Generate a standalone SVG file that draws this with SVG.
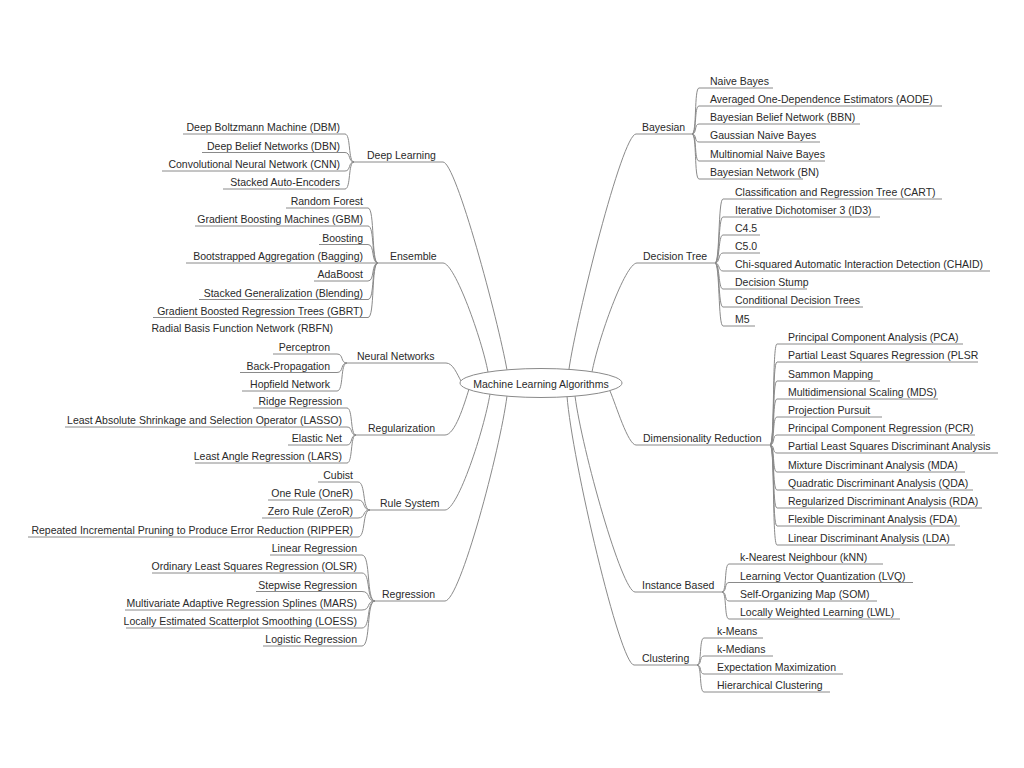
<svg xmlns="http://www.w3.org/2000/svg" width="1024" height="768" viewBox="0 0 1024 768">
<style>
text{font-family:"Liberation Sans",Arial,sans-serif;font-size:10.5px;fill:#2a2a2a}
.l{text-anchor:end}
.c{fill:none;stroke:#8a8a8a;stroke-width:1}
line{stroke:#8a8a8a;stroke-width:1}
</style>
<rect width="1024" height="768" fill="#fff"/>
<g id="connectors" class="c">
<path d="M443 162 C456 162 498 320 507 370"/>
<path d="M443 263 C455 263 482 340 488 372"/>
<path d="M446 363 C453 363 457 374 461 381"/>
<path d="M445 435 C455 435 464 405 469 389"/>
<path d="M445 510 C458 510 484 430 490 394"/>
<path d="M445 601 C460 601 500 450 507 396"/>
<path d="M636 134 C622 134 576 320 569 369"/>
<path d="M637 263 C625 263 598 340 592 372"/>
<path d="M636 445 C628 445 616 405 610 391"/>
<path d="M635 592 C622 592 582 450 575 396"/>
<path d="M634 665 C620 665 572 460 567 396"/>
<path d="M345 134 C351 134 348 162 354 162"/>
<path d="M345 152.5 C351 152.5 348 162 354 162"/>
<path d="M345 171 C351 171 348 162 354 162"/>
<path d="M345 189 C351 189 348 162 354 162"/>
<path d="M368 208 C375 208 371 263 378 263"/>
<path d="M368 226 C375 226 371 263 378 263"/>
<path d="M368 244.5 C375 244.5 371 263 378 263"/>
<path d="M368 263 L378 263"/>
<path d="M368 281 C375 281 371 263 378 263"/>
<path d="M368 299.5 C375 299.5 371 263 378 263"/>
<path d="M368 317.5 C375 317.5 371 263 378 263"/>
<path d="M337 354 C344 354 340 363 347 363"/>
<path d="M337 372.5 C344 372.5 340 363 347 363"/>
<path d="M337 391 C344 391 340 363 347 363"/>
<path d="M347 408 C353 408 350 435 356 435"/>
<path d="M347 427 C353 427 350 435 356 435"/>
<path d="M347 445 C353 445 350 435 356 435"/>
<path d="M347 463 C353 463 350 435 356 435"/>
<path d="M358 482 C366 482 362 510 370 510"/>
<path d="M358 500 C366 500 362 510 370 510"/>
<path d="M358 518 C366 518 362 510 370 510"/>
<path d="M358 537 C366 537 362 510 370 510"/>
<path d="M362 555 C371 555 366 601 375 601"/>
<path d="M362 573 C371 573 366 601 375 601"/>
<path d="M362 591.5 C371 591.5 366 601 375 601"/>
<path d="M362 610 C371 610 366 601 375 601"/>
<path d="M362 628 C371 628 366 601 375 601"/>
<path d="M362 646 C371 646 366 601 375 601"/>
<path d="M692 134 C697 134 694 88 699 88"/>
<path d="M692 134 C697 134 694 106 699 106"/>
<path d="M692 134 C697 134 694 124 699 124"/>
<path d="M692 134 C697 134 694 142 699 142"/>
<path d="M692 134 C697 134 694 161 699 161"/>
<path d="M692 134 C697 134 694 179 699 179"/>
<path d="M715 263 C720 263 718 199 723 199"/>
<path d="M715 263 C720 263 718 217 723 217"/>
<path d="M715 263 C720 263 718 235 723 235"/>
<path d="M715 263 C720 263 718 253 723 253"/>
<path d="M715 263 C720 263 718 271 723 271"/>
<path d="M715 263 C720 263 718 289 723 289"/>
<path d="M715 263 C720 263 718 307 723 307"/>
<path d="M715 263 C720 263 718 326 723 326"/>
<path d="M770 445 C775 445 772 344 777 344"/>
<path d="M770 445 C775 445 772 362 777 362"/>
<path d="M770 445 C775 445 772 381 777 381"/>
<path d="M770 445 C775 445 772 399 777 399"/>
<path d="M770 445 C775 445 772 417 777 417"/>
<path d="M770 445 C775 445 772 435 777 435"/>
<path d="M770 445 C775 445 772 453 777 453"/>
<path d="M770 445 C775 445 772 472 777 472"/>
<path d="M770 445 C775 445 772 490 777 490"/>
<path d="M770 445 C775 445 772 508 777 508"/>
<path d="M770 445 C775 445 772 526 777 526"/>
<path d="M770 445 C775 445 772 545 777 545"/>
<path d="M722 592 C727 592 724 564 729 564"/>
<path d="M722 592 C727 592 724 582.5 729 582.5"/>
<path d="M722 592 C727 592 724 601 729 601"/>
<path d="M722 592 C727 592 724 619 729 619"/>
<path d="M697 665 C702 665 699 638 704 638"/>
<path d="M697 665 C702 665 699 656 704 656"/>
<path d="M697 665 C702 665 699 674 704 674"/>
<path d="M697 665 C702 665 699 692 704 692"/>
</g>
<g id="root"><ellipse cx="541" cy="383" rx="81" ry="14.5" fill="#fff" stroke="#8a8a8a"/><text x="541" y="387.5" text-anchor="middle">Machine Learning Algorithms</text></g>
<g id="cat-deep-learning"><line x1="354" y1="162" x2="443" y2="162"/><text x="367" y="159">Deep Learning</text></g>
<g id="cat-ensemble"><line x1="378" y1="263" x2="443" y2="263"/><text x="390" y="260">Ensemble</text></g>
<g id="cat-neural-networks"><line x1="347" y1="363" x2="446" y2="363"/><text x="357" y="360">Neural Networks</text></g>
<g id="cat-regularization"><line x1="356" y1="435" x2="445" y2="435"/><text x="368" y="432">Regularization</text></g>
<g id="cat-rule-system"><line x1="370" y1="510" x2="445" y2="510"/><text x="380" y="507">Rule System</text></g>
<g id="cat-regression"><line x1="375" y1="601" x2="445" y2="601"/><text x="382" y="598">Regression</text></g>
<g id="cat-bayesian"><line x1="636" y1="134" x2="692" y2="134"/><text x="642" y="131">Bayesian</text></g>
<g id="cat-decision-tree"><line x1="637" y1="263" x2="715" y2="263"/><text x="643" y="260">Decision Tree</text></g>
<g id="cat-dimensionality-reduction"><line x1="636" y1="445" x2="770" y2="445"/><text x="643" y="442">Dimensionality Reduction</text></g>
<g id="cat-instance-based"><line x1="635" y1="592" x2="722" y2="592"/><text x="642" y="589">Instance Based</text></g>
<g id="cat-clustering"><line x1="634" y1="665" x2="697" y2="665"/><text x="642" y="662">Clustering</text></g>
<g id="n-dbm"><line x1="183" y1="134" x2="345" y2="134"/><text class="l" x="340" y="131">Deep Boltzmann Machine (DBM)</text></g>
<g id="n-dbn"><line x1="202" y1="152.5" x2="345" y2="152.5"/><text class="l" x="340" y="149.5">Deep Belief Networks (DBN)</text></g>
<g id="n-cnn"><line x1="162" y1="171" x2="345" y2="171"/><text class="l" x="340" y="168">Convolutional Neural Network (CNN)</text></g>
<g id="n-sae"><line x1="223" y1="189" x2="345" y2="189"/><text class="l" x="340" y="186">Stacked Auto-Encoders</text></g>
<g id="n-rf"><line x1="286" y1="208" x2="368" y2="208"/><text class="l" x="363" y="205">Random Forest</text></g>
<g id="n-gbm"><line x1="195" y1="226" x2="368" y2="226"/><text class="l" x="363" y="223">Gradient Boosting Machines (GBM)</text></g>
<g id="n-boosting"><line x1="319" y1="244.5" x2="368" y2="244.5"/><text class="l" x="363" y="241.5">Boosting</text></g>
<g id="n-bagging"><line x1="186" y1="263" x2="368" y2="263"/><text class="l" x="363" y="260">Bootstrapped Aggregation (Bagging)</text></g>
<g id="n-adaboost"><line x1="314" y1="281" x2="368" y2="281"/><text class="l" x="363" y="278">AdaBoost</text></g>
<g id="n-blending"><line x1="199" y1="299.5" x2="368" y2="299.5"/><text class="l" x="363" y="296.5">Stacked Generalization (Blending)</text></g>
<g id="n-gbrt"><line x1="153" y1="317.5" x2="368" y2="317.5"/><text class="l" x="363" y="314.5">Gradient Boosted Regression Trees (GBRT)</text></g>
<g id="n-rbfn"><text class="l" x="333" y="332">Radial Basis Function Network (RBFN)</text></g>
<g id="n-perceptron"><line x1="273" y1="354" x2="337" y2="354"/><text class="l" x="330" y="351">Perceptron</text></g>
<g id="n-backprop"><line x1="240" y1="372.5" x2="337" y2="372.5"/><text class="l" x="330" y="369.5">Back-Propagation</text></g>
<g id="n-hopfield"><line x1="242" y1="391" x2="337" y2="391"/><text class="l" x="330" y="388">Hopfield Network</text></g>
<g id="n-ridge"><line x1="253" y1="408" x2="347" y2="408"/><text class="l" x="342" y="405">Ridge Regression</text></g>
<g id="n-lasso"><line x1="65" y1="427" x2="347" y2="427"/><text class="l" x="342" y="424">Least Absolute Shrinkage and Selection Operator (LASSO)</text></g>
<g id="n-elastic"><line x1="288" y1="445" x2="347" y2="445"/><text class="l" x="342" y="442">Elastic Net</text></g>
<g id="n-lars"><line x1="195" y1="463" x2="347" y2="463"/><text class="l" x="342" y="460">Least Angle Regression (LARS)</text></g>
<g id="n-cubist"><line x1="318" y1="482" x2="358" y2="482"/><text class="l" x="353" y="479">Cubist</text></g>
<g id="n-oner"><line x1="268" y1="500" x2="358" y2="500"/><text class="l" x="353" y="497">One Rule (OneR)</text></g>
<g id="n-zeror"><line x1="262" y1="518" x2="358" y2="518"/><text class="l" x="353" y="515">Zero Rule (ZeroR)</text></g>
<g id="n-ripper"><line x1="28" y1="537" x2="358" y2="537"/><text class="l" x="353" y="534">Repeated Incremental Pruning to Produce Error Reduction (RIPPER)</text></g>
<g id="n-linear"><line x1="270" y1="555" x2="362" y2="555"/><text class="l" x="357" y="552">Linear Regression</text></g>
<g id="n-olsr"><line x1="152" y1="573" x2="362" y2="573"/><text class="l" x="357" y="570">Ordinary Least Squares Regression (OLSR)</text></g>
<g id="n-stepwise"><line x1="256" y1="591.5" x2="362" y2="591.5"/><text class="l" x="357" y="588.5">Stepwise Regression</text></g>
<g id="n-mars"><line x1="125" y1="610" x2="362" y2="610"/><text class="l" x="357" y="607">Multivariate Adaptive Regression Splines (MARS)</text></g>
<g id="n-loess"><line x1="126" y1="628" x2="362" y2="628"/><text class="l" x="357" y="625">Locally Estimated Scatterplot Smoothing (LOESS)</text></g>
<g id="n-logistic"><line x1="263" y1="646" x2="362" y2="646"/><text class="l" x="357" y="643">Logistic Regression</text></g>
<g id="n-naive"><line x1="699" y1="88" x2="773" y2="88"/><text x="710" y="85">Naive Bayes</text></g>
<g id="n-aode"><line x1="699" y1="106" x2="942" y2="106"/><text x="710" y="103">Averaged One-Dependence Estimators (AODE)</text></g>
<g id="n-bbn"><line x1="699" y1="124" x2="860" y2="124"/><text x="710" y="121">Bayesian Belief Network (BBN)</text></g>
<g id="n-gaussian"><line x1="699" y1="142" x2="820" y2="142"/><text x="710" y="139">Gaussian Naive Bayes</text></g>
<g id="n-multinomial"><line x1="699" y1="161" x2="825" y2="161"/><text x="710" y="158">Multinomial Naive Bayes</text></g>
<g id="n-bn"><line x1="699" y1="179" x2="803" y2="179"/><text x="710" y="176">Bayesian Network (BN)</text></g>
<g id="n-cart"><line x1="723" y1="199" x2="942" y2="199"/><text x="735" y="196">Classification and Regression Tree (CART)</text></g>
<g id="n-id3"><line x1="723" y1="217" x2="880" y2="217"/><text x="735" y="214">Iterative Dichotomiser 3 (ID3)</text></g>
<g id="n-c45"><line x1="723" y1="235" x2="760" y2="235"/><text x="735" y="232">C4.5</text></g>
<g id="n-c50"><line x1="723" y1="253" x2="760" y2="253"/><text x="735" y="250">C5.0</text></g>
<g id="n-chaid"><line x1="723" y1="271" x2="990" y2="271"/><text x="735" y="268">Chi-squared Automatic Interaction Detection (CHAID)</text></g>
<g id="n-stump"><line x1="723" y1="289" x2="807" y2="289"/><text x="735" y="286">Decision Stump</text></g>
<g id="n-cdt"><line x1="723" y1="307" x2="863" y2="307"/><text x="735" y="304">Conditional Decision Trees</text></g>
<g id="n-m5"><line x1="723" y1="326" x2="755" y2="326"/><text x="735" y="323">M5</text></g>
<g id="n-pca"><line x1="777" y1="344" x2="963" y2="344"/><text x="788" y="341">Principal Component Analysis (PCA)</text></g>
<g id="n-plsr"><line x1="777" y1="362" x2="978" y2="362"/><text x="788" y="359">Partial Least Squares Regression (PLSR</text></g>
<g id="n-sammon"><line x1="777" y1="381" x2="880" y2="381"/><text x="788" y="378">Sammon Mapping</text></g>
<g id="n-mds"><line x1="777" y1="399" x2="938" y2="399"/><text x="788" y="396">Multidimensional Scaling (MDS)</text></g>
<g id="n-pp"><line x1="777" y1="417" x2="882" y2="417"/><text x="788" y="414">Projection Pursuit</text></g>
<g id="n-pcr"><line x1="777" y1="435" x2="975" y2="435"/><text x="788" y="432">Principal Component Regression (PCR)</text></g>
<g id="n-plsda"><line x1="777" y1="453" x2="998" y2="453"/><text x="788" y="450">Partial Least Squares Discriminant Analysis</text></g>
<g id="n-mda"><line x1="777" y1="472" x2="965" y2="472"/><text x="788" y="469">Mixture Discriminant Analysis (MDA)</text></g>
<g id="n-qda"><line x1="777" y1="490" x2="973" y2="490"/><text x="788" y="487">Quadratic Discriminant Analysis (QDA)</text></g>
<g id="n-rda"><line x1="777" y1="508" x2="982" y2="508"/><text x="788" y="505">Regularized Discriminant Analysis (RDA)</text></g>
<g id="n-fda"><line x1="777" y1="526" x2="960" y2="526"/><text x="788" y="523">Flexible Discriminant Analysis (FDA)</text></g>
<g id="n-lda"><line x1="777" y1="545" x2="955" y2="545"/><text x="788" y="542">Linear Discriminant Analysis (LDA)</text></g>
<g id="n-knn"><line x1="729" y1="564" x2="883" y2="564"/><text x="740" y="561">k-Nearest Neighbour (kNN)</text></g>
<g id="n-lvq"><line x1="729" y1="582.5" x2="913" y2="582.5"/><text x="740" y="579.5">Learning Vector Quantization (LVQ)</text></g>
<g id="n-som"><line x1="729" y1="601" x2="877" y2="601"/><text x="740" y="598">Self-Organizing Map (SOM)</text></g>
<g id="n-lwl"><line x1="729" y1="619" x2="900" y2="619"/><text x="740" y="616">Locally Weighted Learning (LWL)</text></g>
<g id="n-kmeans"><line x1="704" y1="638" x2="763" y2="638"/><text x="717" y="635">k-Means</text></g>
<g id="n-kmedians"><line x1="704" y1="656" x2="773" y2="656"/><text x="717" y="653">k-Medians</text></g>
<g id="n-em"><line x1="704" y1="674" x2="843" y2="674"/><text x="717" y="671">Expectation Maximization</text></g>
<g id="n-hc"><line x1="704" y1="692" x2="830" y2="692"/><text x="717" y="689">Hierarchical Clustering</text></g>
</svg>
